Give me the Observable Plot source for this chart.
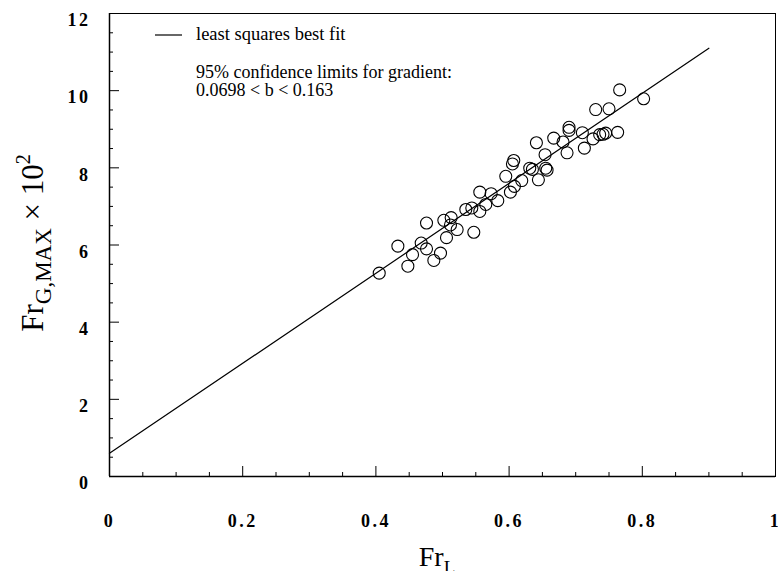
<!DOCTYPE html>
<html><head><meta charset="utf-8">
<script src="https://cdn.jsdelivr.net/npm/d3@7"></script>
<script src="https://cdn.jsdelivr.net/npm/@observablehq/plot@0.6"></script>
<style>
body{margin:0;background:#fff}
g[aria-label="x-axis tick label"] text, g[aria-label="y-axis tick label"] text{font-weight:bold;letter-spacing:2.5px}
</style>
</head><body><div id="chart"></div>
<script>
// Froude number of liquid (x) and maximum gas Froude number x 10^2 (y)
const frL = [0.405,0.448,0.433,0.455,0.468,0.476,0.487,0.497,0.476,0.506,0.502,0.513,0.512,0.522,0.547,
  0.535,0.544,0.556,0.556,0.565,0.573,0.583,0.595,0.602,0.608,0.607,0.605,0.619,0.631,0.635,0.644,
  0.641,0.654,0.655,0.657,0.667,0.681,0.687,0.690,0.690,0.710,0.713,0.726,0.736,0.741,0.745,0.763,
  0.730,0.750,0.766,0.802];
const frGmax = [5.27,5.45,5.97,5.75,6.05,5.90,5.60,5.79,6.57,6.19,6.64,6.71,6.52,6.40,6.33,
  6.92,6.96,6.87,7.37,7.05,7.33,7.15,7.78,7.37,7.52,8.19,8.10,7.67,7.99,7.96,7.69,
  8.65,8.34,7.99,7.94,8.77,8.67,8.39,9.05,8.97,8.91,8.51,8.75,8.86,8.87,8.90,8.92,
  9.51,9.53,10.02,9.79];
// least squares best fit line (end points)
const fitX = [0, 0.9];
const fitY = [0.6, 11.1];

const xTickValues = [0, 0.2, 0.4, 0.6, 0.8, 1];
const xTickLabels = ["0", "0.2", "0.4", "0.6", "0.8", "1"];
const xMinorTicks = [0.05,0.1,0.15,0.25,0.3,0.35,0.45,0.5,0.55,0.65,0.7,0.75,0.85,0.9,0.95];
const yTickValues = [0, 2, 4, 6, 8, 10, 12];
const yTickLabels = ["0", "2", "4", "6", "8", "10", "12"];
const yMinorTicks = [0.5,1,1.5,2.5,3,3.5,4.5,5,5.5,6.5,7,7.5,8.5,9,9.5,10.5,11,11.5];

const legendText = "least squares best fit";
const noteLines = ["95% confidence limits for gradient:", "0.0698 < b < 0.163"];

const points = frL.map((x, i) => ({x, y: frGmax[i]}));
const fit = fitX.map((x, i) => ({x, y: fitY[i]}));

const W = 778, H = 571, ML = 109, MR = 3, MT = 13, MB = 95;

const chart = Plot.plot({
  width: W, height: H,
  marginLeft: ML, marginRight: MR, marginTop: MT, marginBottom: MB,
  style: {fontFamily: "'Liberation Serif', 'Times New Roman', serif", fontSize: "16px", color: "black", background: "white"},
  x: {domain: [0, 1]},
  y: {domain: [0, 12]},
  marks: [
    Plot.frame({stroke: "black", strokeWidth: 1}),
    Plot.ruleX([0], {stroke: "black", strokeWidth: 1.5}),
    Plot.ruleY([0], {stroke: "black", strokeWidth: 1.5}),
    // inward ticks
    Plot.axisX(xTickValues, {anchor: "bottom", tickSize: 10, dy: -10, fill: "none", label: null}),
    Plot.axisX(xMinorTicks, {anchor: "bottom", tickSize: 4, dy: -4, fill: "none", label: null}),
    Plot.axisY(yTickValues, {anchor: "left", tickSize: 10, dx: 10, fill: "none", label: null}),
    Plot.axisY(yMinorTicks, {anchor: "left", tickSize: 4, dx: 4, fill: "none", label: null}),
    // tick labels
    Plot.axisX(xTickValues, {anchor: "bottom", tickSize: 0, tickPadding: 38, fontSize: 18, fontWeight: "bold", tickFormat: (d) => xTickLabels[xTickValues.indexOf(d)], label: null}),
    Plot.axisY(yTickValues, {anchor: "left", tickSize: 0, tickPadding: 19, dy: 7, fontSize: 18, fontWeight: "bold", tickFormat: (d) => yTickLabels[yTickValues.indexOf(d)], label: null}),
    Plot.line(fit, {x: "x", y: "y", stroke: "black", strokeWidth: 1.2}),
    Plot.dot(points, {x: "x", y: "y", r: 6, stroke: "black", fill: "none", strokeWidth: 1.1})
  ]
});
document.getElementById("chart").appendChild(chart);

const svg = d3.select(chart);
const ff = "'Liberation Serif', 'Times New Roman', serif";
// legend
svg.append("line").attr("x1", 155).attr("x2", 182).attr("y1", 35).attr("y2", 35)
  .attr("stroke", "black").attr("stroke-width", 1.2);
svg.append("text").attr("x", 196).attr("y", 40).attr("text-anchor", "start").attr("font-family", ff).attr("font-size", 18.5)
  .attr("fill", "black").text(legendText);
noteLines.forEach((t, i) => {
  svg.append("text").attr("x", 196).attr("y", 78 + i * 18).attr("text-anchor", "start").attr("font-family", ff).attr("font-size", 18)
    .attr("fill", "black").text(t);
});
// x axis title
const xt = svg.append("text").attr("x", 437).attr("y", 566).attr("text-anchor", "middle")
  .attr("font-family", ff).attr("font-size", 28).attr("fill", "black");
xt.append("tspan").text("Fr");
xt.append("tspan").attr("dy", 8).attr("font-size", 19).text("L");
// y axis title
const yt = svg.append("text").attr("transform", "translate(43,243) rotate(-90)").attr("text-anchor", "middle")
  .attr("font-family", ff).attr("font-size", 31).attr("fill", "black");
yt.append("tspan").text("Fr");
yt.append("tspan").attr("dy", 8).attr("font-size", 23).text("G,MAX");
yt.append("tspan").attr("dy", -8).text(" \u00d7 10");
yt.append("tspan").attr("dy", -13).attr("font-size", 20).text("2");
</script>
</body></html>
